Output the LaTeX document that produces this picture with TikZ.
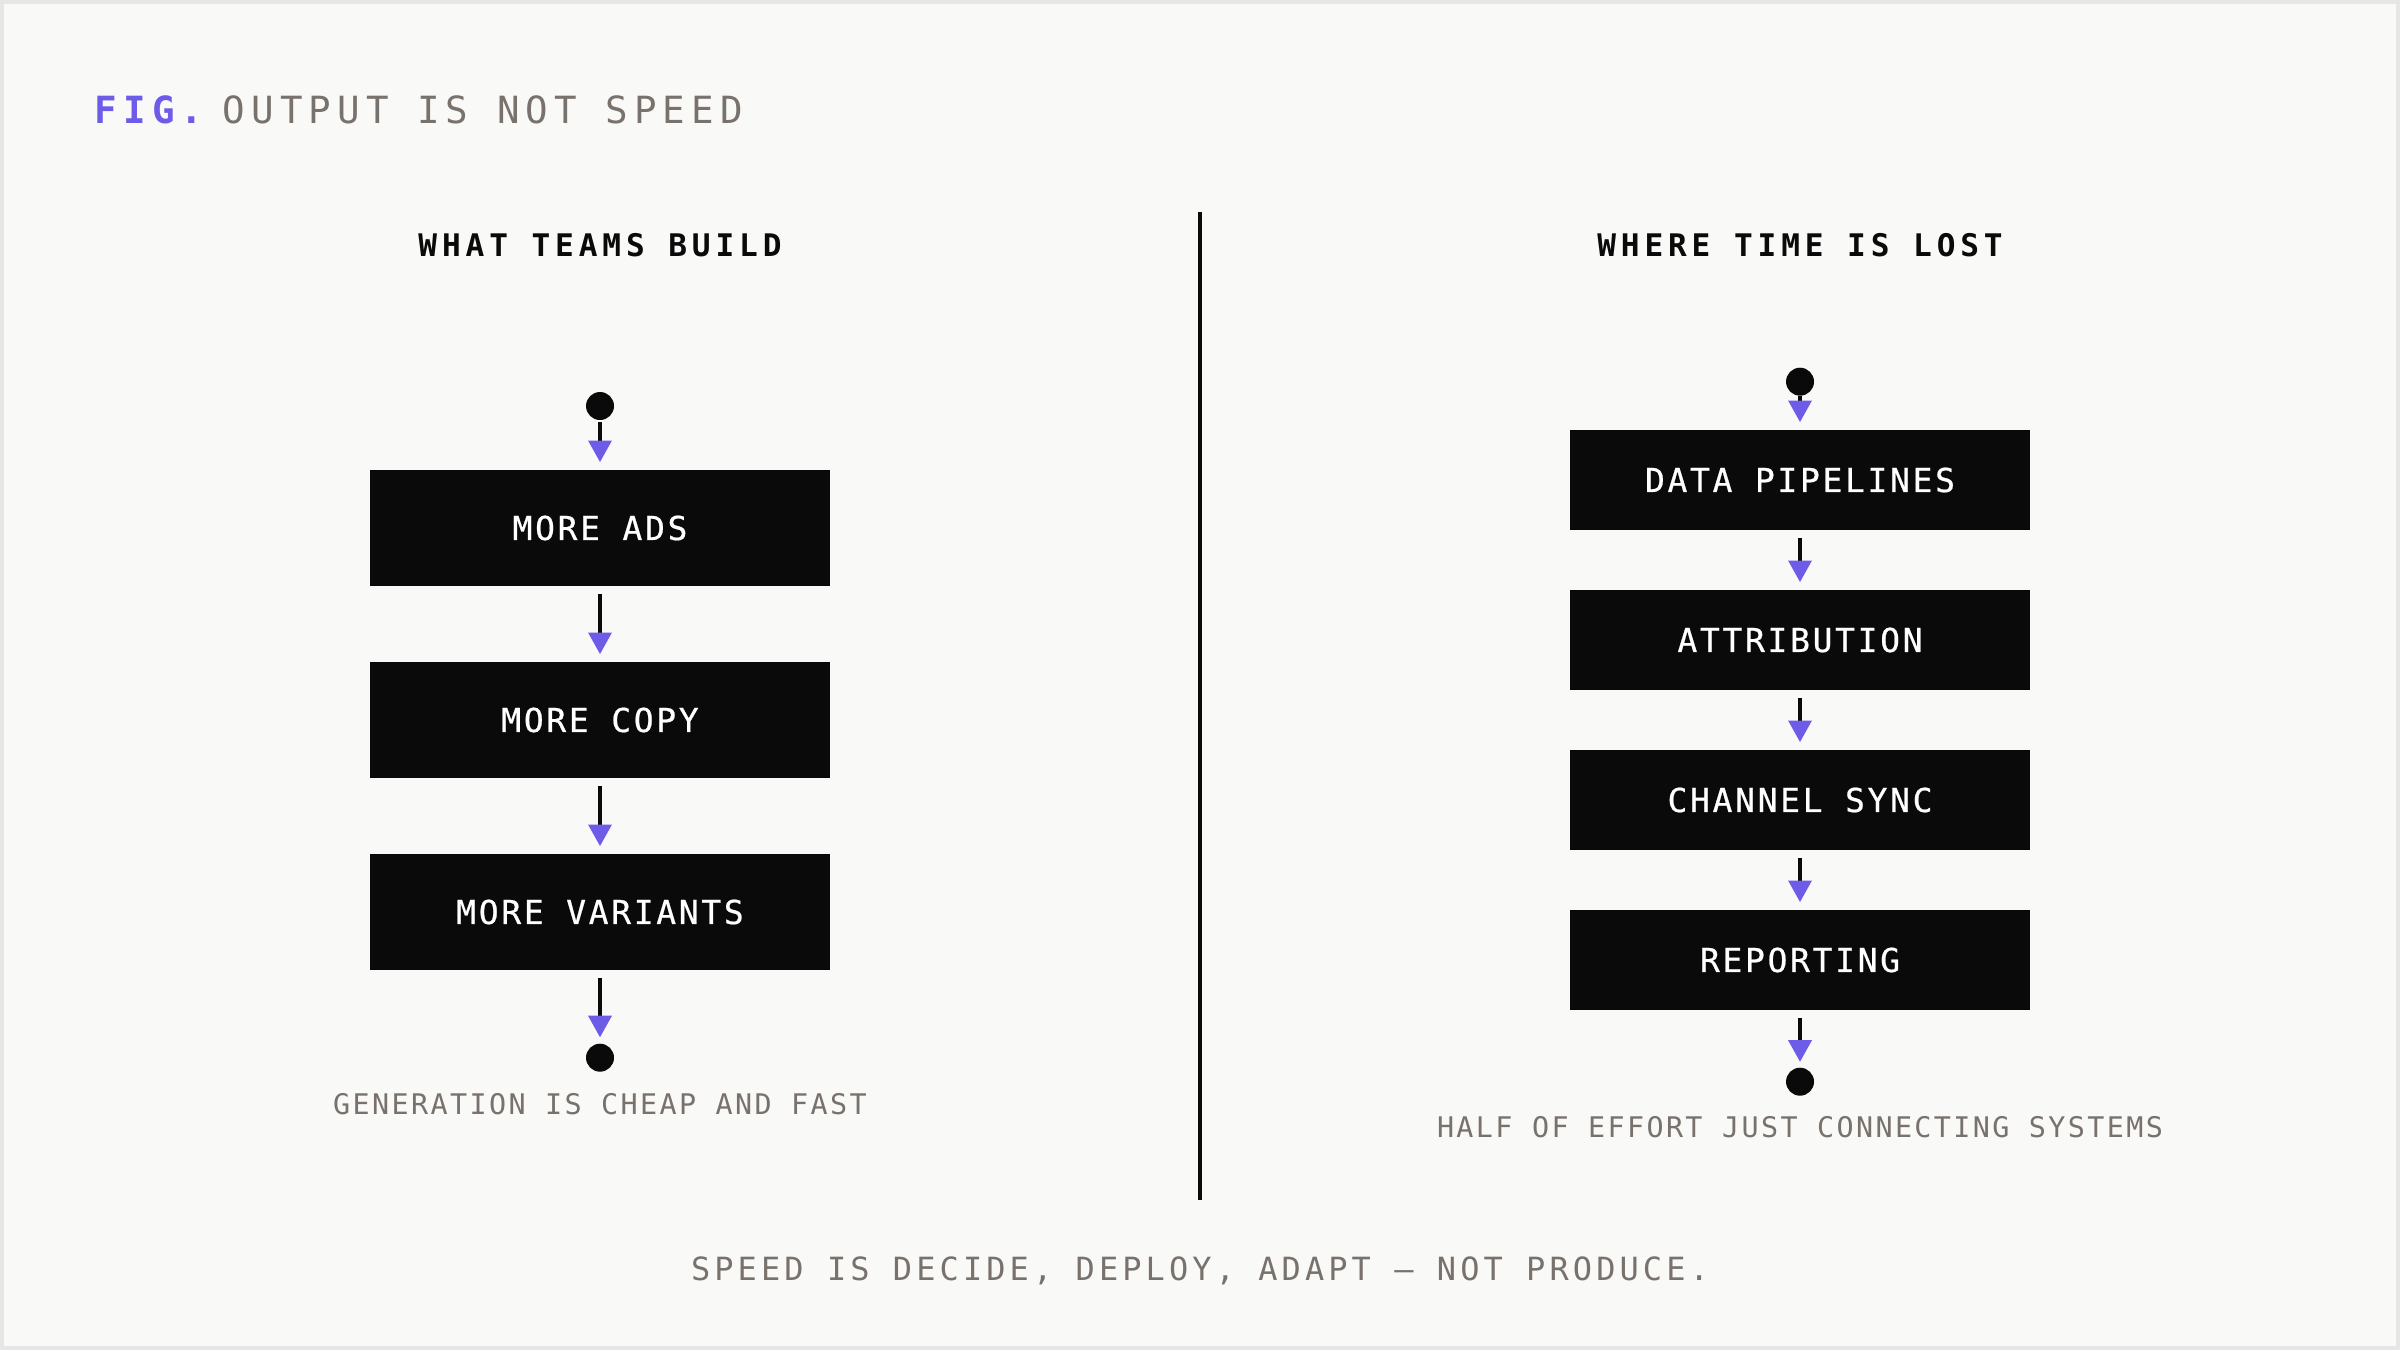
\documentclass[tikz,border=0pt]{standalone}
\usepackage{fontspec}
\usepackage{xcolor}
\usetikzlibrary{arrows.meta,positioning}

\definecolor{canvas}{HTML}{F9F9F7}
\definecolor{frame}{HTML}{E6E6E4}
\definecolor{ink}{HTML}{0A0A0A}
\definecolor{accent}{HTML}{6C5CE7}
\definecolor{muted}{HTML}{78716C}

\newfontfamily\titlefont[LetterSpace=16.3]{DejaVu Sans Mono}
\newfontfamily\headfont[LetterSpace=15.6]{DejaVu Sans Mono}
\newfontfamily\boxfont[LetterSpace=8.2, FakeBold=0.6]{DejaVu Sans Mono}
\newfontfamily\notefont[LetterSpace=8.4]{DejaVu Sans Mono}
\newfontfamily\footfont[LetterSpace=12.8]{DejaVu Sans Mono}

\begin{document}
\begin{tikzpicture}[
    x=0.1mm, y=0.1mm,
    stage/.style={rectangle, fill=ink, text=white,
      minimum width=46mm, minimum height=11.6mm,
      inner sep=0pt, outer sep=0pt,
      font=\boxfont\fontsize{9.37pt}{11pt}\selectfont},
    task/.style={stage, minimum height=10mm},
    dot/.style={circle, fill=ink, minimum size=2.8mm,
      inner sep=0pt, outer sep=0pt},
    titletext/.style={inner sep=0pt, anchor=base west,
      font=\titlefont\fontsize{10.66pt}{13pt}\selectfont},
    heading/.style={inner sep=0pt, anchor=base, text=ink,
      font=\headfont\fontsize{8.86pt}{11pt}\selectfont\bfseries},
    note/.style={inner sep=0pt, anchor=base, text=muted,
      font=\notefont\fontsize{8.08pt}{10pt}\selectfont},
    footer/.style={inner sep=0pt, anchor=base, text=muted,
      font=\footfont\fontsize{9.1pt}{11pt}\selectfont},
    divider/.style={draw=ink, line width=0.45mm},
    arr/.style={-{Triangle[length=2.15mm, width=2.4mm, line width=0pt,
      color=accent, fill=accent]}, draw=ink, line width=0.45mm,
      shorten <=0.8mm, shorten >=0.8mm},
  ]
    % Canvas
    \fill[frame] (0,0) rectangle (2400,-1350);
    \fill[canvas] (4,-4) rectangle (2396,-1346);

    % Title
    \node[titletext, text=accent] (figtag) at (94,-124) {\bfseries FIG.};
    \node[titletext, text=muted] (figtitle) at (222,-124) {OUTPUT IS NOT SPEED};

    % Headings and divider
    \node[heading] (buildhead) at (600,-256) {WHAT TEAMS BUILD};
    \node[heading] (losthead) at (1800,-256) {WHERE TIME IS LOST};
    \coordinate (divtop) at (1200,-212);
    \coordinate (divbot) at (1200,-1200);
    \draw[divider] (divtop) -- (divbot);

    % Left column
    \node[dot] (buildstart) at (600,-406) {};
    \node[stage, below=5mm of buildstart] (ads) {MORE ADS};
    \node[stage, below=7.6mm of ads] (copy) {MORE COPY};
    \node[stage, below=7.6mm of copy] (variants) {MORE VARIANTS};
    \node[dot, below=7.37mm of variants] (buildend) {};
    \node[note] (buildnote) at (600,-1114) {GENERATION IS CHEAP AND FAST};

    % Right column
    \node[dot] (loststart) at (1800,-381.7) {};
    \node[task, below=3.43mm of loststart] (pipes) {DATA PIPELINES};
    \node[task, below=6mm of pipes] (attrib) {ATTRIBUTION};
    \node[task, below=6mm of attrib] (sync) {CHANNEL SYNC};
    \node[task, below=6mm of sync] (report) {REPORTING};
    \node[dot, below=5.77mm of report] (lostend) {};
    \node[note] (lostnote) at (1800,-1137.7) {HALF OF EFFORT JUST CONNECTING SYSTEMS};

    % Footer
    \node[footer] (tagline) at (1200,-1280) {SPEED IS DECIDE, DEPLOY, ADAPT — NOT PRODUCE.};

    % Arrows
    \draw[arr, shorten <=0.2mm] (buildstart) -- (ads);
    \draw[arr] (ads) -- (copy);
    \draw[arr] (copy) -- (variants);
    \draw[arr, shorten >=0.65mm] (variants) -- (buildend);
    \draw[arr, shorten <=0mm] (loststart) -- (pipes);
    \draw[arr] (pipes) -- (attrib);
    \draw[arr] (attrib) -- (sync);
    \draw[arr] (sync) -- (report);
    \draw[arr, shorten >=0.6mm] (report) -- (lostend);
  \end{tikzpicture}
\end{document}
